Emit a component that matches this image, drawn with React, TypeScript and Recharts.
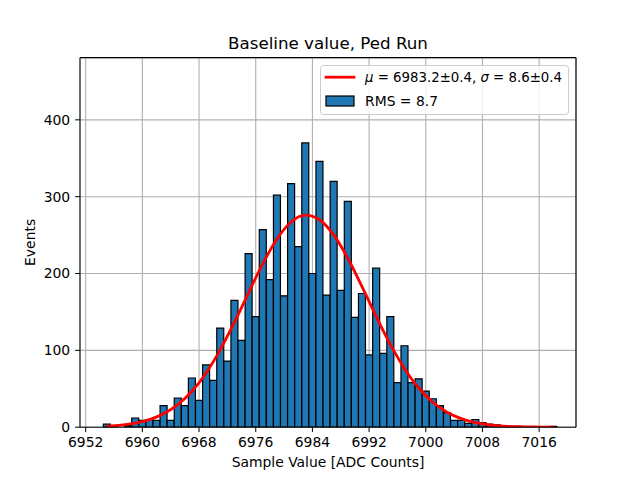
import React from "react";
import {
  ComposedChart,
  Bar,
  Line,
  XAxis,
  YAxis,
  CartesianGrid,
  ReferenceLine,
  Legend,
} from "recharts";

// histogram bins (bin centres, width 1 ADC count) and counts
const binCenters = [
  6955, 6956, 6957, 6958, 6959, 6960, 6961, 6962, 6963, 6964, 6965, 6966, 6967, 6968, 6969, 6970,
  6971, 6972, 6973, 6974, 6975, 6976, 6977, 6978, 6979, 6980, 6981, 6982, 6983, 6984, 6985, 6986,
  6987, 6988, 6989, 6990, 6991, 6992, 6993, 6994, 6995, 6996, 6997, 6998, 6999, 7000, 7001, 7002,
  7003, 7004, 7005, 7006, 7007, 7008, 7009, 7010, 7011, 7012, 7013, 7014, 7015, 7016, 7017, 7018,
];
const counts = [
  4, 1, 0, 2, 12, 9, 10, 9, 28, 9, 38, 28, 64, 35, 81, 61,
  129, 86, 165, 113, 226, 144, 257, 192, 302, 171, 317, 235, 370, 200, 346, 172,
  320, 178, 294, 143, 174, 94, 207, 96, 144, 58, 106, 58, 63, 47, 37, 28,
  19, 9, 9, 5, 10, 6, 4, 3, 2, 1, 1, 0, 0, 0, 0, 1,
];

// gaussian fit curve, sampled off the red line every 2 counts
const fitX = [
  6955, 6957, 6959, 6961, 6963, 6965, 6967, 6969, 6971, 6973, 6975, 6977, 6979, 6981, 6983,
  6985, 6987, 6989, 6991, 6993, 6995, 6997, 6999, 7001, 7003, 7005, 7007, 7009, 7011, 7013,
  7015, 7017, 7018,
];
const fitY = [
  1.3, 2.7, 5.3, 9.9, 17.5, 29.4, 46.8, 70.6, 100.9, 136.6, 175.2, 212.8, 245, 267.1, 275.9,
  270, 250.3, 219.9, 182.9, 144.2, 107.7, 76.2, 51, 32.4, 19.5, 11.1, 6, 3.1, 1.5, 0.7,
  0.3, 0.1, 0.1,
];

const xTicks = [6952, 6960, 6968, 6976, 6984, 6992, 7000, 7008, 7016];
const yTicks = [0, 100, 200, 300, 400];
const X_DOMAIN: [number, number] = [6951.2, 7021.2];
const Y_MAX = 481;

const FONT = "DejaVu Sans, sans-serif";

const histData = binCenters.map((x, i) => ({ x, count: counts[i] }));
const fitData = fitX.map((x, i) => ({ x, fit: fitY[i] }));

function FitLegend() {
  return (
    <svg width={250} height={50} style={{ display: "block" }}>
      <rect
        x={0.5}
        y={0.5}
        width={248}
        height={49}
        rx={3}
        fill="white"
        fillOpacity={0.8}
        stroke="#cccccc"
      />
      <line x1={6} y1={12.2} x2={34} y2={12.2} stroke="red" strokeWidth={2.8} strokeLinecap="square" />
      <text
        x={45}
        y={17.2}
        fontFamily={FONT}
        fontSize={13.9}
        fill="black"
        textLength={197}
        lengthAdjust="spacingAndGlyphs"
      >
        <tspan fontStyle="italic">μ</tspan>
        {" = 6983.2±0.4, "}
        <tspan fontStyle="italic">σ</tspan>
        {" = 8.6±0.4"}
      </text>
      <rect x={6} y={31} width={28} height={10} fill="#1f77b4" stroke="black" strokeWidth={1.2} />
      <text x={45} y={41.2} fontFamily={FONT} fontSize={13.9} fill="black">
        RMS = 8.7
      </text>
    </svg>
  );
}

export default function App() {
  const tickStyle = { fill: "black", fontSize: 13.9, fontFamily: FONT };

  return (
    <div style={{ position: "absolute", left: 0, top: 0, width: 640, height: 480, background: "white" }}>
      <ComposedChart
        width={640}
        height={480}
        data={histData}
        margin={{ top: 57.6, right: 64, bottom: 0, left: 0 }}
      >
        <XAxis
          dataKey="x"
          type="number"
          domain={X_DOMAIN}
          allowDataOverflow
          ticks={xTicks}
          interval={0}
          height={52.8}
          stroke="black"
          tick={tickStyle}
          tickSize={4.9}
          tickMargin={5.5}
          label={{
            value: "Sample Value [ADC Counts]",
            position: "insideBottom",
            offset: 13,
            fill: "black",
            fontSize: 13.9,
            fontFamily: FONT,
          }}
        />
        <YAxis
          type="number"
          domain={[0, Y_MAX]}
          allowDataOverflow
          ticks={yTicks}
          interval={0}
          width={80}
          stroke="black"
          tick={tickStyle}
          tickSize={4.9}
          tickMargin={4.9}
          label={{
            value: "Events",
            angle: -90,
            position: "insideLeft",
            offset: 30,
            fill: "black",
            fontSize: 13.9,
            fontFamily: FONT,
            style: { textAnchor: "middle" },
          }}
        />
        <Bar
          dataKey="count"
          fill="#1f77b4"
          stroke="black"
          strokeWidth={1.2}
          barSize={7}
          isAnimationActive={false}
        />
        <CartesianGrid stroke="#b0b0b0" strokeWidth={1.1} />
        <Line
          data={fitData}
          dataKey="fit"
          type="monotone"
          stroke="red"
          strokeWidth={2.8}
          dot={false}
          activeDot={false}
          isAnimationActive={false}
        />
        <ReferenceLine y={Y_MAX} stroke="black" strokeWidth={1.1} />
        <ReferenceLine x={X_DOMAIN[1]} stroke="black" strokeWidth={1.1} />
        <Legend
          layout="vertical"
          align="center"
          verticalAlign="middle"
          content={() => <FitLegend />}
          wrapperStyle={{ left: 320, top: 64.5, width: 250, height: 50 }}
        />
      </ComposedChart>
      <svg
        width={640}
        height={60}
        style={{ position: "absolute", left: 0, top: 0, pointerEvents: "none" }}
      >
        <text x={328} y={49.3} textAnchor="middle" fontFamily={FONT} fontSize={16.7} fill="black">
          Baseline value, Ped Run
        </text>
      </svg>
    </div>
  );
}
